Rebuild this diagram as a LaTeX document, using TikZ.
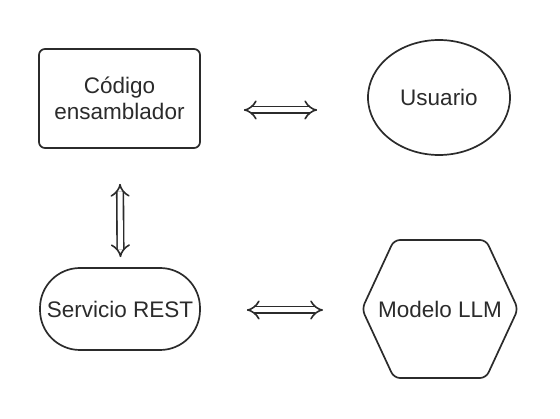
\documentclass[tikz,border=0pt]{standalone}
\usepackage{fontspec}
\setmainfont{Liberation Sans}
\usetikzlibrary{arrows.meta,positioning,calc,shapes.geometric}
\definecolor{ink}{HTML}{2B2B2B}
\tikzset{
  block/.style={rectangle, draw=ink, line width=1.7pt, rounded corners=6pt, minimum width=161pt, minimum height=99pt, align=center, text=ink, font=\fontsize{22.5}{26}\selectfont},
  oval/.style={ellipse, draw=ink, line width=1.7pt, minimum width=142pt, minimum height=115pt, inner sep=0pt, text=ink, font=\fontsize{22.5}{26}\selectfont},
  pill/.style={rectangle, draw=ink, line width=1.7pt, rounded corners=40pt, minimum width=160pt, minimum height=82pt, inner sep=0pt, text=ink, font=\fontsize{22.5}{26}\selectfont},
  hexlabel/.style={inner sep=0pt, text=ink, font=\fontsize{22.5}{26}\selectfont},
  hexa/.style={draw=ink, line width=1.7pt, rounded corners=6pt, line join=round},
  dbl/.style={{Implies[length=6pt,width=16pt]}-{Implies[length=6pt,width=16pt]}, draw=ink, double=white, double distance=5pt, line width=1.6pt, line join=round}
}
\begin{document}
\begin{tikzpicture}[x=1pt,y=-1pt]
  \useasboundingbox (0,0) rectangle (560,419);
  \node[block] (code) at (119.5,98.5) {Código\\ensamblador};
  \node[oval] (user) at (439,97.5) {Usuario};
  \node[pill] (rest) at (120,309) {Servicio REST};
  \node[hexlabel] (llm) at (440,309) {Modelo LLM};
  % hexagon round the model
  \draw[hexa] ($(llm)+(-78,0)$) -- ($(llm)+(-46,-69)$) -- ($(llm)+(46,-69)$)
    -- ($(llm)+(78,0)$) -- ($(llm)+(46,69)$) -- ($(llm)+(-46,69)$) -- cycle;
  \coordinate (llmw) at ($(llm)+(-78,0)$);
  % links
  \draw[dbl] ($(code.east)+(43,11.5)$) -- ($(user.west)+(-50,12.5)$);
  \draw[dbl] ($(code.south)+(0.5,35)$) -- ($(rest.north)+(0.5,-10)$);
  \draw[dbl] ($(rest.east)+(46,1)$) -- ($(llmw)+(-39,1)$);
\end{tikzpicture}
\end{document}
